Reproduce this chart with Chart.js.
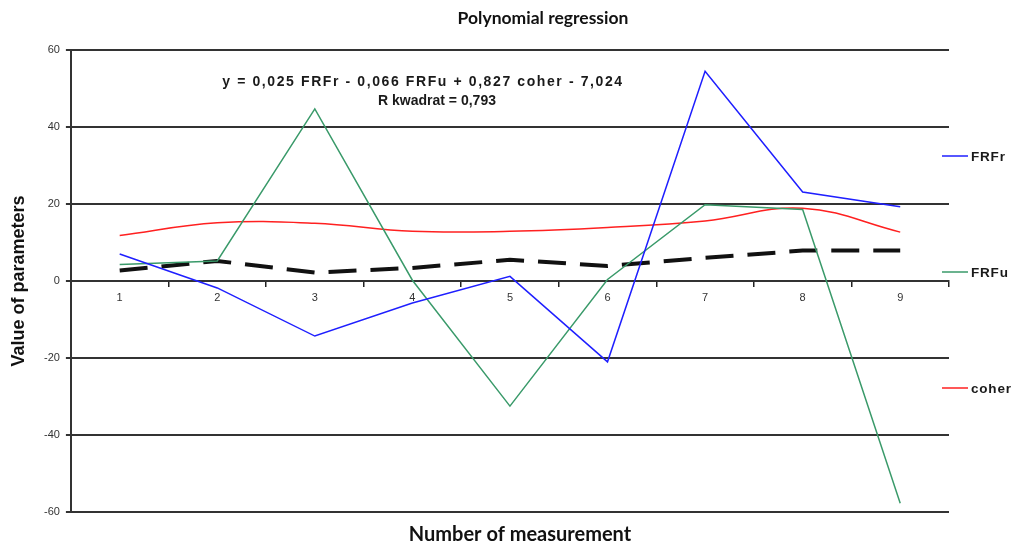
<!DOCTYPE html>
<html><head><meta charset="utf-8">
<script src="https://cdn.jsdelivr.net/npm/chart.js@4"></script>
<style>html,body{margin:0;padding:0;background:#fff;}#wrap{width:1014px;height:544px;}</style>
</head><body><div id="wrap"><canvas id="c" width="1014" height="544"></canvas></div>
<script>
const categories = ['1','2','3','4','5','6','7','8','9'];
const frfr  = [7, -1.8, -14.3, -5.7, 1.2, -21, 54.5, 23.1, 19.3];
const frfu  = [4.3, 5.2, 44.7, 0.2, -32.5, 0.4, 19.8, 18.6, -57.7];
const coher = [11.8, 15.1, 15.0, 12.9, 12.9, 13.9, 15.6, 18.9, 12.7];
const fitted = [2.7, 5.2, 2.2, 3.4, 5.5, 3.9, 6.0, 7.9, 7.9];
const yTicks = [-60, -40, -20, 0, 20, 40, 60];
const chartTitle = 'Polynomial regression';
const xTitle = 'Number of measurement';
const yTitle = 'Value of parameters';
const equationLines = ['y = 0,025 FRFr - 0,066 FRFu + 0,827 coher - 7,024', 'R kwadrat = 0,793'];

const overlay = {
  id: 'overlay',
  afterDraw(chart) {
    const ctx = chart.ctx;
    ctx.save();
    ctx.textBaseline = 'middle';
    ctx.textAlign = 'center';
    ctx.fillStyle = '#111';
    // titles
    ctx.font = 'bold 17.5px Lato, "Open Sans", sans-serif';
    ctx.fillText(chartTitle, 543, 18);
    ctx.font = 'bold 20px Lato, "Open Sans", sans-serif';
    ctx.fillText(xTitle, 520, 535);
    // equation
    ctx.fillStyle = '#1a1a1a';
    ctx.font = 'bold 14px "Liberation Sans", Arial, sans-serif';
    ctx.letterSpacing = '1.6px';
    ctx.fillText(equationLines[0], 423, 82);
    ctx.letterSpacing = '0px';
    ctx.fillText(equationLines[1], 437, 101);
    // legend
    const legendY = [156, 272, 388];
    chart.data.datasets.slice(0, 3).forEach((ds, i) => {
      const y = legendY[i];
      ctx.strokeStyle = ds.borderColor;
      ctx.lineWidth = 1.5;
      ctx.beginPath(); ctx.moveTo(942, y); ctx.lineTo(968, y); ctx.stroke();
      ctx.font = 'bold 13.5px "Liberation Sans", Arial, sans-serif';
      ctx.letterSpacing = '0.8px';
      ctx.fillStyle = '#1a1a1a';
      ctx.textAlign = 'left';
      ctx.fillText(ds.label, 971, y + 1);
      ctx.letterSpacing = '0px';
    });
    ctx.restore();
  }
};

new Chart(document.getElementById('c'), {
  type: 'line',
  data: {
    labels: categories,
    datasets: [
      {label: 'FRFr', data: frfr, borderColor: '#1f1fff', borderWidth: 1.5, pointRadius: 0, tension: 0},
      {label: 'FRFu', data: frfu, borderColor: '#3a9a6a', borderWidth: 1.5, pointRadius: 0, tension: 0},
      {label: 'coher', data: coher, borderColor: '#ff2020', borderWidth: 1.5, pointRadius: 0, tension: 0.4},
      {label: 'fit', data: fitted, borderColor: '#111', borderWidth: 4, borderDash: [28, 14], pointRadius: 0, tension: 0}
    ]
  },
  options: {
    responsive: false,
    animation: false,
    layout: {padding: {left: 0, right: 65, top: 50, bottom: 32}},
    plugins: {
      legend: {display: false},
      tooltip: {enabled: false},
      title: {display: false},
      subtitle: {display: false}
    },
    scales: {
      x: {
        type: 'category',
        offset: true,
        position: {y: 0},
        grid: {display: true, drawOnChartArea: false, drawTicks: true, tickLength: 5, offset: true, color: '#222', lineWidth: 1.5},
        border: {display: true, color: '#333', width: 2},
        ticks: {color: '#333', font: {family: '"Liberation Sans", Arial, sans-serif', size: 11}, padding: 5, maxRotation: 0}
      },
      y: {
        min: -60, max: 60,
        afterBuildTicks(scale) { scale.ticks = yTicks.map(v => ({value: v})); },
        grid: {color: '#333', lineWidth: 2, drawTicks: true, tickLength: 5},
        border: {display: true, color: '#333', width: 2},
        ticks: {color: '#333', font: {family: '"Liberation Sans", Arial, sans-serif', size: 11}, padding: 6},
        title: {display: true, text: yTitle, color: '#111',
          font: {family: '"Liberation Sans", Arial, sans-serif', size: 18, weight: 'bold', lineHeight: 1},
          padding: {top: 10, bottom: 10}}
      }
    }
  },
  plugins: [overlay]
});
</script></body></html>
